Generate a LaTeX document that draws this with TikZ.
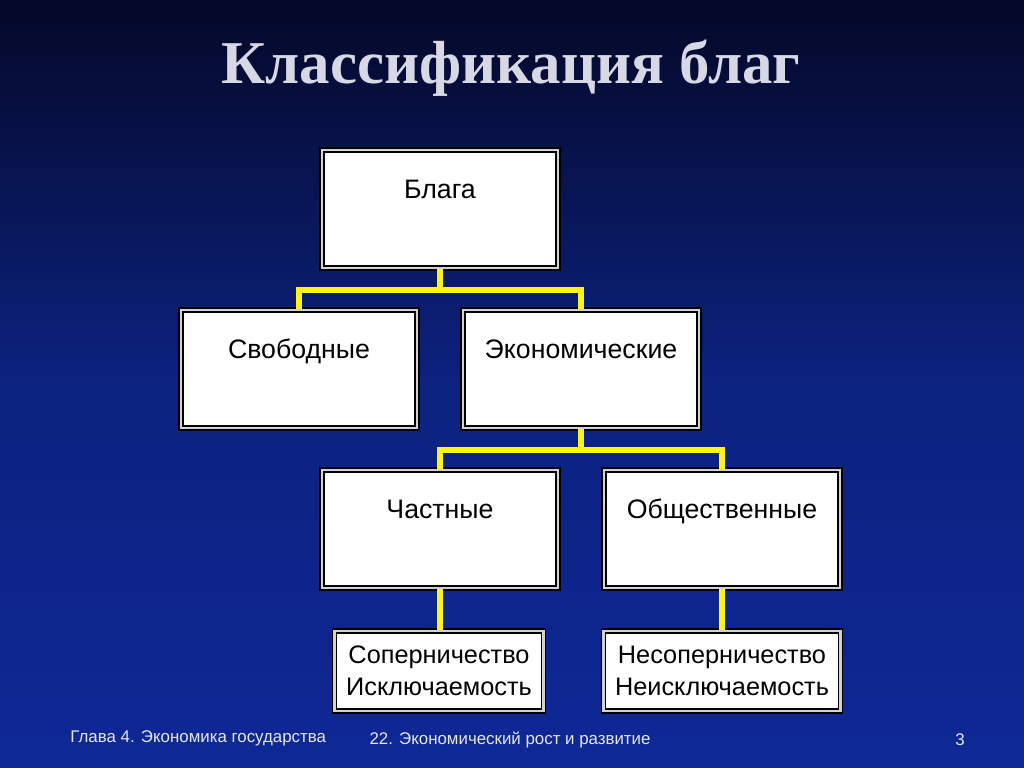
\documentclass[tikz,border=0pt]{standalone}
\usepackage{fontspec}
\setmainfont{Liberation Sans}
\newfontfamily\titlefont{Liberation Serif}
\usetikzlibrary{positioning,calc}

\definecolor{slideblue}{RGB}{14,40,150}
\definecolor{slidetop}{RGB}{4,8,40}
\definecolor{titlegrey}{RGB}{215,215,230}

\tikzset{
  boxnode/.style={draw=black, line width=0.45pt, fill=white, double=gray!35, double distance=0.7pt,
    minimum width=2.36cm, inner ysep=0.14cm, text height=0.34cm, text depth=0.56cm,
    font=\fontsize{7.6}{10}\selectfont},
  leafnode/.style={draw=black, line width=0.45pt, fill=white, double=gray!35, double distance=0.7pt,
    minimum height=0.8cm, align=center, font=\fontsize{7.2}{9}\selectfont},
  link/.style={draw=yellow!90!white, line width=1.8pt},
  foot/.style={text=gray!20, font=\fontsize{4.8}{6}\selectfont}
}

\begin{document}
\begin{tikzpicture}
    \shade[top color=slidetop, bottom color=slideblue, middle color=slideblue!85!black]
      (0,0) rectangle (10.24,-7.67);
    \useasboundingbox (0,0) rectangle (10.24,-7.67);

    \node (title) [text=titlegrey, font=\titlefont\bfseries\fontsize{17.3}{20}\selectfont] at (5.11,-0.68) {Классификация благ};

    \node (blaga) [boxnode] at (4.40,-2.09) {Блага};
    \node (svob) [boxnode] at (2.99,-3.69) {Свободные};
    \node (econ) [boxnode] at (5.81,-3.69) {Экономические};
    \node (chast) [boxnode] at (4.40,-5.29) {Частные};
    \node (obsh) [boxnode] at (7.22,-5.29) {Общественные};
    \node (sopern) [leafnode, minimum width=1.82cm] at (4.39,-6.71) {Соперничество\\Исключаемость};
    \node (nesopern) [leafnode, minimum width=2.11cm] at (7.22,-6.71) {Несоперничество\\Неисключаемость};

    \draw [link] (blaga.south) -- ++(0,-0.21) coordinate (b1) -| (svob.north);
    \draw [link] (b1) -| (econ.north);
    \draw [link] (econ.south) -- ++(0,-0.21) coordinate (e1) -| (chast.north);
    \draw [link] (e1) -| (obsh.north);
    \draw [link] (chast.south) -- (chast.south |- sopern.north);
    \draw [link] (obsh.south) -- (nesopern.north);

    \node (ch) [foot, anchor=west] at (0.58,-7.38) {Глава 4. Экономика государства};
    \node (topic) [foot] at (5.1,-7.40) {22. Экономический рост и развитие};
    \node (page) [foot] at (9.6,-7.40) {3};
\end{tikzpicture}
\end{document}
